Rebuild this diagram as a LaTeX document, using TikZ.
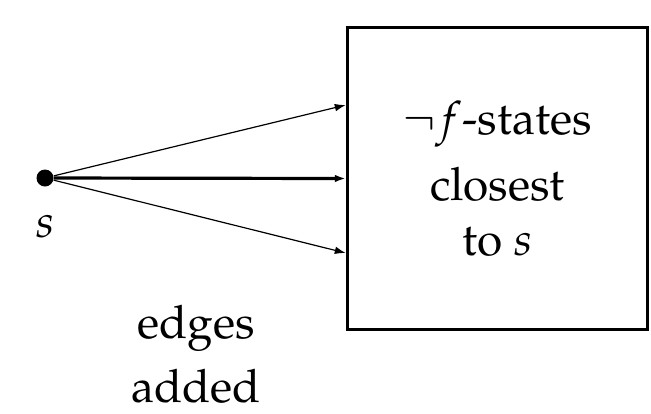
\documentclass[tikz,border=0pt]{standalone}
\usepackage[T1]{fontenc}
\usepackage{mathpazo}
\usetikzlibrary{arrows.meta,positioning}

\tikzset{
  bigtext/.style={font=\fontsize{23}{27.5}\selectfont},
  statebox/.style={draw, line width=1.7pt, minimum width=150pt, minimum height=151pt,
    align=center, inner sep=0pt, bigtext},
  source/.style={circle, fill, inner sep=0pt, minimum size=8.5pt},
  edge/.style={-{Latex[length=5.5pt,width=3.8pt]}, line width=0.6pt},
  mainedge/.style={edge, line width=1.6pt},
}

\begin{document}
\begin{tikzpicture}[x=0.5pt,y=-0.5pt]
  \useasboundingbox (0,0) rectangle (651,413);

  % target set and the start state
  \node[statebox] (closest) at (497.5,178.5) {$\neg f$-states\\[5.5pt] closest\\ to $s$};
  \node[source] (s) at (45,178) {};
  \node[below=14pt of s, inner sep=0pt, bigtext] (slabel) {$s$};

  % new edges from s
  \draw[edge] (s) -- ([yshift=36.75pt]closest.west);
  \draw[mainedge] (s) -- (closest.west);
  \draw[edge] (s) -- ([yshift=-37.25pt]closest.west);

  \node[align=center, font=\fontsize{23}{32}\selectfont] (added) at (196,354) {edges\\ added};
\end{tikzpicture}
\end{document}
